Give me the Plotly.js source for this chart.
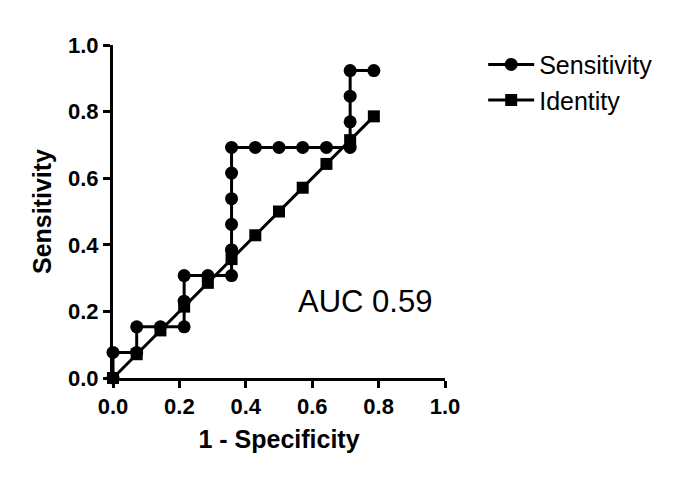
<!DOCTYPE html>
<html>
<head>
<meta charset="utf-8">
<script src="https://cdn.plot.ly/plotly-3.0.1.min.js"></script>
<style>html,body{margin:0;padding:0;background:#fff;}#chart{width:685px;height:480px;}</style>
</head>
<body>
<div id="chart"></div>
<script>
// ROC curve: 1 - Specificity (x) vs Sensitivity (y)
var sensX = [0, 0, 0.0714, 0.0714, 0.1429, 0.2143, 0.2143, 0.2143, 0.2857, 0.3571, 0.3571, 0.3571, 0.3571, 0.3571, 0.3571, 0.3571, 0.4286, 0.5, 0.5714, 0.6429, 0.7143, 0.7143, 0.7143, 0.7143, 0.7857];
var sensY = [0, 0.0769, 0.0769, 0.1538, 0.1538, 0.1538, 0.2308, 0.3077, 0.3077, 0.3077, 0.3846, 0.3846, 0.4615, 0.5385, 0.6154, 0.6923, 0.6923, 0.6923, 0.6923, 0.6923, 0.6923, 0.7692, 0.8462, 0.9231, 0.9231];
var identX = [0, 0.0714, 0.1429, 0.2143, 0.2857, 0.3571, 0.4286, 0.5, 0.5714, 0.6429, 0.7143, 0.7857];
var identY = [0, 0.0714, 0.1429, 0.2143, 0.2857, 0.3571, 0.4286, 0.5, 0.5714, 0.6429, 0.7143, 0.7857];
var tickVals = [0, 0.2, 0.4, 0.6, 0.8, 1.0];
var tickText = ["0.0", "0.2", "0.4", "0.6", "0.8", "1.0"];
var seriesNames = ["Sensitivity", "Identity"];
var aucLabel = "AUC 0.59";

var FONT = "Arial, 'Liberation Sans', sans-serif";
var traces = [
  {x: sensX, y: sensY, name: seriesNames[0], type: "scatter", mode: "lines+markers",
   line: {color: "#000", width: 3}, marker: {symbol: "circle", size: 13, color: "#000"},
   cliponaxis: false, legendgroup: "a"},
  {x: identX, y: identY, name: seriesNames[1], type: "scatter", mode: "lines+markers",
   line: {color: "#000", width: 3}, marker: {symbol: "square", size: 12, color: "#000"},
   cliponaxis: false, legendgroup: "b"}
];
var axisCommon = {
  range: [0, 1], showgrid: false, zeroline: false, showline: true, linecolor: "#000", linewidth: 3,
  ticks: "outside", ticklen: 7, tickwidth: 3, tickcolor: "#000",
  tickvals: tickVals, ticktext: tickText,
  tickfont: {family: FONT, size: 22, color: "#000", weight: "bold"}
};
var layout = {
  width: 685, height: 480,
  margin: {l: 113, r: 240, t: 45, b: 102},
  paper_bgcolor: "#fff", plot_bgcolor: "#fff",
  font: {family: FONT, color: "#000"},
  xaxis: Object.assign({}, axisCommon, {
    title: {text: "<b>1 - Specificity</b>", font: {family: FONT, size: 25, color: "#000"}, standoff: 13}
  }),
  yaxis: Object.assign({}, axisCommon, {
    title: {text: "<b>Sensitivity</b>", font: {family: FONT, size: 25, color: "#000"}, standoff: 10}
  }),
  showlegend: true,
  legend: {x: 1.115, xanchor: "left", y: 1.01, yanchor: "top", traceorder: "grouped", tracegroupgap: 0,
    itemwidth: 46,
    font: {family: FONT, size: 25, color: "#000"}, bgcolor: "rgba(0,0,0,0)"},
  annotations: [{x: 0.76, y: 0.23, xref: "x", yref: "y", text: aucLabel, showarrow: false,
    font: {family: FONT, size: 31, color: "#000"}}]
};
Plotly.newPlot("chart", traces, layout, {displayModeBar: false, staticPlot: true});
</script>
</body>
</html>
